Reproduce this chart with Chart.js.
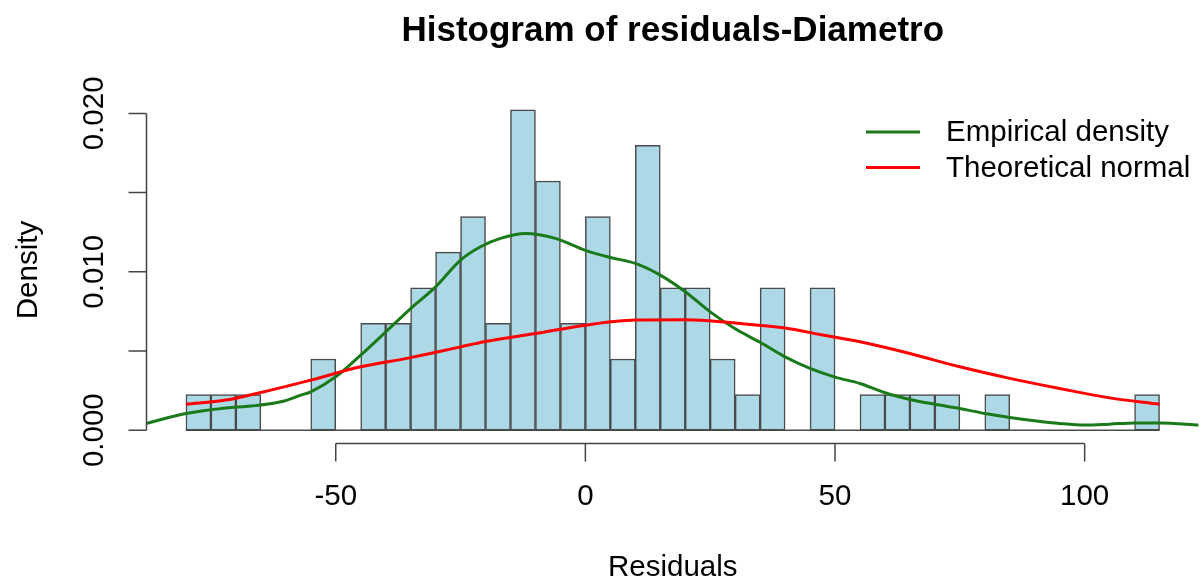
<!DOCTYPE html>
<html>
<head>
<meta charset="utf-8">
<script src="https://cdn.jsdelivr.net/npm/chart.js@4.4.1/dist/chart.umd.min.js"></script>
<style>
  html, body { margin: 0; padding: 0; background: #fff; }
  #wrap { width: 1204px; height: 587px; }
</style>
</head>
<body>
<div id="wrap"><canvas id="hist" width="1204" height="587"></canvas></div>
<script>
// histogram of 89 residuals, bins of width 5
const binWidth = 5;
const nObs = 89;
const binStarts = [-80, -75, -70, -65, -60, -55, -50, -45, -40, -35, -30, -25, -20, -15, -10, -5,
  0, 5, 10, 15, 20, 25, 30, 35, 40, 45, 50, 55, 60, 65, 70, 75, 80, 85, 90, 95, 100, 105, 110];
const binCounts = [1, 1, 1, 0, 0, 2, 0, 3, 3, 4, 5, 6, 3, 9, 7, 3,
  6, 2, 8, 4, 4, 2, 1, 4, 0, 4, 0, 1, 1, 1, 1, 0, 1, 0, 0, 0, 0, 0, 1];

// kernel density estimate (green)
const empiricalX = [-88, -80, -72, -67, -61, -57, -55, -50, -45, -40, -35, -30, -25, -21, -17, -12, -6,
  0, 5, 10, 15, 20, 25, 30, 35, 40, 45, 50, 55, 60, 65, 70, 75, 80, 85, 90, 95, 100, 105, 110, 115, 123];
const empiricalY = [0.00042, 0.00105, 0.00140, 0.00152, 0.00179, 0.00221, 0.00242, 0.00337, 0.00474, 0.0062,
  0.00768, 0.00905, 0.01074, 0.01158, 0.01211, 0.01242, 0.01211, 0.01135, 0.01090, 0.01053, 0.00979, 0.00874,
  0.00747, 0.00640, 0.00555, 0.00463, 0.0039, 0.00335, 0.00295, 0.00236, 0.00194, 0.00164, 0.00137,
  0.00105, 0.0008, 0.00059, 0.00042, 0.00032, 0.00038, 0.00046, 0.00046, 0.00032];

// fitted normal curve (red)
const normalX = [-80, -72, -65, -55, -45, -35, -25, -20, -10, 0, 10, 20, 30, 40, 47, 55, 65, 75, 85, 95, 105, 115];
const normalY = [0.00164, 0.0019, 0.00238, 0.00316, 0.0040, 0.00458, 0.00526, 0.0056, 0.0061, 0.00663,
  0.00695, 0.00697, 0.00676, 0.00645, 0.00604, 0.00558, 0.00484, 0.0040, 0.00327, 0.00263, 0.00204, 0.00164];

const xTicks = [-50, 0, 50, 100];
const yTicks = [0, 0.005, 0.01, 0.015, 0.02];
const yTickLabels = ['0.000', '', '0.010', '', '0.020'];
const legendItems = [
  { text: 'Empirical density', color: '#1a7a1a' },
  { text: 'Theoretical normal', color: '#ff0000' }
];

const FONT = '"Liberation Sans", Arial, sans-serif';
const AXIS_COLOR = '#444';

const histData = binStarts.map((s, i) => ({ x: s + binWidth / 2, y: binCounts[i] / (nObs * binWidth) }));
const kdeData = empiricalX.map((x, i) => ({ x: x, y: empiricalY[i] }));
const normData = normalX.map((x, i) => ({ x: x, y: normalY[i] }));

// base-graphics style axes, title and legend
const rStyle = {
  id: 'rStyle',
  beforeDatasetsDraw(chart) {
    const { ctx, scales: { x, y } } = chart;
    // zero-height bins still show as a line along the bottom
    ctx.save();
    ctx.strokeStyle = '#4a4a4a';
    ctx.lineWidth = 1.5;
    ctx.beginPath();
    ctx.moveTo(x.getPixelForValue(binStarts[0]), y.getPixelForValue(0));
    ctx.lineTo(x.getPixelForValue(binStarts[binStarts.length - 1] + binWidth), y.getPixelForValue(0));
    ctx.stroke();
    ctx.restore();
  },
  afterDraw(chart) {
    const { ctx, chartArea, scales: { x, y } } = chart;
    const tick = 18;
    ctx.save();
    ctx.strokeStyle = AXIS_COLOR;
    ctx.lineWidth = 1.5;
    ctx.fillStyle = '#000';

    // x axis
    const ax = chartArea.bottom + 0.5;
    ctx.beginPath();
    ctx.moveTo(x.getPixelForValue(xTicks[0]), ax);
    ctx.lineTo(x.getPixelForValue(xTicks[xTicks.length - 1]), ax);
    xTicks.forEach(v => {
      const px = x.getPixelForValue(v);
      ctx.moveTo(px, ax);
      ctx.lineTo(px, ax + tick);
    });
    ctx.stroke();
    ctx.font = '29.5px ' + FONT;
    ctx.textAlign = 'center';
    ctx.textBaseline = 'middle';
    xTicks.forEach(v => ctx.fillText(String(v), x.getPixelForValue(v), 497));
    ctx.fillText('Residuals', (chartArea.left + chartArea.right) / 2, 568);

    // y axis
    const ay = chartArea.left - 0.5;
    ctx.beginPath();
    ctx.moveTo(ay, y.getPixelForValue(yTicks[0]));
    ctx.lineTo(ay, y.getPixelForValue(yTicks[yTicks.length - 1]));
    yTicks.forEach(v => {
      const py = y.getPixelForValue(v);
      ctx.moveTo(ay, py);
      ctx.lineTo(ay - tick, py);
    });
    ctx.stroke();
    yTicks.forEach((v, i) => {
      if (!yTickLabels[i]) return;
      ctx.save();
      ctx.translate(95, y.getPixelForValue(v));
      ctx.rotate(-Math.PI / 2);
      ctx.fillText(yTickLabels[i], 0, 0);
      ctx.restore();
    });
    ctx.save();
    ctx.translate(29, (chartArea.top + chartArea.bottom) / 2);
    ctx.rotate(-Math.PI / 2);
    ctx.fillText('Density', 0, 0);
    ctx.restore();

    // title
    ctx.font = 'bold 35px ' + FONT;
    ctx.fillText('Histogram of residuals-Diametro', (chartArea.left + chartArea.right) / 2, 31);

    // legend
    ctx.font = '29.5px ' + FONT;
    ctx.textAlign = 'left';
    ctx.lineWidth = 3;
    legendItems.forEach((item, i) => {
      const ly = 132 + i * 35.5;
      ctx.strokeStyle = item.color;
      ctx.beginPath();
      ctx.moveTo(866, ly);
      ctx.lineTo(920, ly);
      ctx.stroke();
      ctx.fillText(item.text, 946, ly + 1);
    });
    ctx.restore();
  }
};

new Chart(document.getElementById('hist'), {
  type: 'bar',
  data: {
    datasets: [
      {
        type: 'line',
        label: 'Theoretical normal',
        data: normData,
        borderColor: '#ff0000',
        borderWidth: 3,
        pointRadius: 0,
        cubicInterpolationMode: 'monotone',
        order: 1
      },
      {
        type: 'line',
        label: 'Empirical density',
        data: kdeData,
        borderColor: '#1a7a1a',
        borderWidth: 3,
        pointRadius: 0,
        cubicInterpolationMode: 'monotone',
        order: 2
      },
      {
        type: 'bar',
        label: 'Residuals',
        data: histData,
        backgroundColor: '#add8e6',
        borderColor: '#4a4a4a',
        borderWidth: 1.5,
        borderSkipped: false,
        barPercentage: 1,
        categoryPercentage: 1,
        order: 3
      }
    ]
  },
  options: {
    responsive: false,
    animation: false,
    devicePixelRatio: 1,
    layout: { padding: { left: 147, right: 5.5, top: 97, bottom: 144 } },
    plugins: {
      legend: { display: false },
      tooltip: { enabled: false }
    },
    scales: {
      x: { type: 'linear', min: -87.8, max: 122.8, offset: false, display: false },
      y: { type: 'linear', min: -0.000809, max: 0.021034, display: false }
    }
  },
  plugins: [rStyle]
});
</script>
</body>
</html>
